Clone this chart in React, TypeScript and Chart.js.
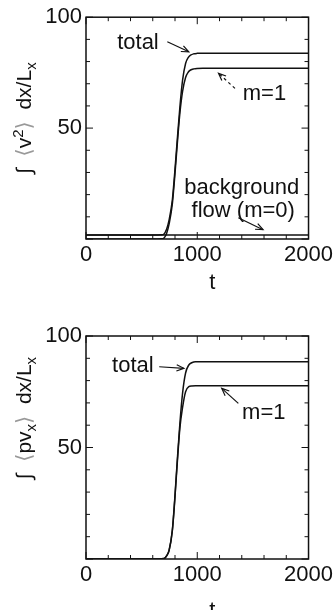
import React, { useEffect, useRef } from "react";
import { Chart, registerables } from "chart.js";
Chart.register(...registerables);

// ---------- data ----------
const tTop = [0, 600, 680, 702, 725, 747, 776, 797, 820, 844, 868, 895, 920, 940, 970, 998, 1050, 1200, 2000];
const totalTop = [1.8, 1.8, 1.9, 2.3, 4.5, 8.6, 17.6, 29.6, 44.6, 59.6, 71.6, 79.1, 81.9, 82.9, 83.5, 83.7, 83.8, 83.8, 83.8];
const m1Top = [0, 0, 0.1, 0.5, 2.6, 6.8, 15.8, 27.8, 42.6, 56.8, 66.5, 72.8, 75.3, 76.2, 76.7, 76.9, 77, 77, 77];
const tBg = [0, 2000];
const bgTop = [1.8, 1.8];

const tBot = [0, 650, 702, 725, 747, 776, 797, 820, 844, 868, 895, 924, 950, 984, 1050, 2000];
const totalBot = [0, 0, 0.2, 1.5, 4, 13, 26.5, 44, 61, 74.4, 83.4, 87, 88, 88.5, 88.5, 88.5];
const m1Bot = [0, 0, 0.2, 1.4, 3.8, 12.6, 25.8, 42.8, 58.8, 68, 75, 77.3, 77.6, 77.7, 77.7, 77.7];

const xTicks = [0, 1000, 2000];
const yTicks = [50, 100];

const FONT = "'Liberation Sans', Arial, 'DejaVu Sans', sans-serif";
const INK = "#111";

type Seg = { t: string; k?: "sub" | "sup"; c?: string };
type Txt = { s: string; x: number; y: number };
type Arr = { x1: number; y1: number; x2: number; y2: number; dash?: number[] };
type Deco = {
  texts: Txt[];
  arrows: Arr[];
  ylabel: Seg[];
  ylabelVal: number;
  tX: number;
  tDy: number;
};

const pts = (xs: number[], ys: number[]) => xs.map((x, i) => ({ x, y: ys[i] }));

function drawRich(ctx: CanvasRenderingContext2D, segs: Seg[], cx: number, cy: number) {
  const big = `21px ${FONT}`;
  const small = `15px ${FONT}`;
  ctx.save();
  ctx.translate(cx, cy);
  ctx.rotate(-Math.PI / 2);
  let w = 0;
  const widths = segs.map((s) => {
    ctx.font = s.k ? small : big;
    const m = ctx.measureText(s.t).width;
    w += m;
    return m;
  });
  let x = -w / 2;
  ctx.textBaseline = "alphabetic";
  ctx.textAlign = "left";
  segs.forEach((s, i) => {
    ctx.font = s.k ? small : big;
    ctx.fillStyle = s.c || INK;
    const dy = s.k === "sup" ? -8 : s.k === "sub" ? 5 : 0;
    ctx.fillText(s.t, x, 7 + dy);
    x += widths[i];
  });
  ctx.restore();
}

function makeDecoPlugin(deco: Deco) {
  return {
    id: "deco",
    afterDatasetsDraw(chart: any) {
      const { ctx, chartArea: a, scales } = chart;
      const xs = scales.x;
      const ys = scales.y;
      ctx.save();
      // frame
      ctx.strokeStyle = INK;
      ctx.lineWidth = 1.5;
      ctx.strokeRect(a.left, a.top, a.right - a.left, a.bottom - a.top);
      // inward ticks
      ctx.lineWidth = 1;
      for (let v = 0; v <= 2000; v += 200) {
        const px = xs.getPixelForValue(v);
        const L = v % 1000 === 0 ? 7 : 4;
        ctx.beginPath();
        ctx.moveTo(px, a.bottom);
        ctx.lineTo(px, a.bottom - L);
        ctx.moveTo(px, a.top);
        ctx.lineTo(px, a.top + L);
        ctx.stroke();
      }
      for (let v = 0; v <= 100; v += 10) {
        const py = ys.getPixelForValue(v);
        const L = v % 50 === 0 ? 7 : 4;
        ctx.beginPath();
        ctx.moveTo(a.left, py);
        ctx.lineTo(a.left + L, py);
        ctx.moveTo(a.right, py);
        ctx.lineTo(a.right - L, py);
        ctx.stroke();
      }
      // annotation texts
      ctx.fillStyle = INK;
      ctx.font = `22px ${FONT}`;
      ctx.textAlign = "center";
      ctx.textBaseline = "middle";
      deco.texts.forEach((t) => {
        ctx.fillText(t.s, xs.getPixelForValue(t.x), ys.getPixelForValue(t.y));
      });
      // arrows
      deco.arrows.forEach((r) => {
        const x1 = xs.getPixelForValue(r.x1);
        const y1 = ys.getPixelForValue(r.y1);
        const x2 = xs.getPixelForValue(r.x2);
        const y2 = ys.getPixelForValue(r.y2);
        ctx.lineWidth = 1.2;
        ctx.setLineDash(r.dash || []);
        ctx.beginPath();
        ctx.moveTo(x1, y1);
        ctx.lineTo(x2, y2);
        ctx.stroke();
        ctx.setLineDash([]);
        const ang = Math.atan2(y2 - y1, x2 - x1);
        const h = 8;
        ctx.beginPath();
        ctx.moveTo(x2 - h * Math.cos(ang - 0.4), y2 - h * Math.sin(ang - 0.4));
        ctx.lineTo(x2, y2);
        ctx.lineTo(x2 - h * Math.cos(ang + 0.4), y2 - h * Math.sin(ang + 0.4));
        ctx.stroke();
      });
      // x title
      ctx.font = `22px ${FONT}`;
      ctx.textAlign = "center";
      ctx.textBaseline = "alphabetic";
      ctx.fillText("t", xs.getPixelForValue(deco.tX), a.bottom + deco.tDy);
      // y title
      drawRich(ctx, deco.ylabel, 24, ys.getPixelForValue(deco.ylabelVal));
      ctx.restore();
    },
  };
}

function makeConfig(
  datasets: { xs: number[]; ys: number[] }[],
  padTop: number,
  xHeight: number,
  deco: Deco
): any {
  return {
    type: "line",
    data: {
      datasets: datasets.map((d) => ({
        data: pts(d.xs, d.ys),
        borderColor: INK,
        borderWidth: 1.5,
        pointRadius: 0,
        fill: false,
        cubicInterpolationMode: "monotone",
      })),
    },
    options: {
      animation: false,
      responsive: false,
      maintainAspectRatio: false,
      layout: { padding: { top: padTop, right: 25, left: 0, bottom: 0 } },
      plugins: { legend: { display: false }, tooltip: { enabled: false } },
      scales: {
        x: {
          type: "linear",
          min: 0,
          max: 2000,
          afterBuildTicks: (s: any) => {
            s.ticks = xTicks.map((v) => ({ value: v }));
          },
          ticks: {
            color: INK,
            font: { family: FONT, size: 22 },
            padding: 3,
            maxRotation: 0,
            autoSkip: false,
            callback: (v: any) => String(v),
          },
          grid: { display: false, drawTicks: false },
          border: { display: false },
          afterFit: (s: any) => {
            s.height = xHeight;
          },
        },
        y: {
          min: 0,
          max: 100,
          afterBuildTicks: (s: any) => {
            s.ticks = yTicks.map((v) => ({ value: v }));
          },
          ticks: {
            color: INK,
            font: { family: FONT, size: 22 },
            padding: 4,
            callback: (v: any) => String(v),
          },
          grid: { display: false, drawTicks: false },
          border: { display: false },
          afterFit: (s: any) => {
            s.width = 86;
          },
        },
      },
    },
    plugins: [makeDecoPlugin(deco)],
  };
}

const decoTop: Deco = {
  texts: [
    { s: "total", x: 467, y: 88.2 },
    { s: "m=1", x: 1604, y: 65.3 },
    { s: "background", x: 1400, y: 23 },
    { s: "flow (m=0)", x: 1413, y: 12.7 },
  ],
  arrows: [
    { x1: 731, y1: 88.9, x2: 924, y2: 84.4 },
    { x1: 1339, y1: 67.9, x2: 1191, y2: 74.7, dash: [3, 3] },
    { x1: 1369, y1: 9.6, x2: 1591, y2: 4.2 },
  ],
  ylabel: [
    { t: "\u222B  " },
    { t: "\u27E8", c: "#999" },
    { t: "v" },
    { t: "2", k: "sup" },
    { t: "\u27E9", c: "#999" },
    { t: "  dx/L" },
    { t: "x", k: "sub" },
  ],
  ylabelVal: 54.5,
  tX: 1135,
  tDy: 50,
};

const decoBot: Deco = {
  texts: [
    { s: "total", x: 421, y: 86.4 },
    { s: "m=1", x: 1598, y: 65.7 },
  ],
  arrows: [
    { x1: 658, y1: 86.2, x2: 880, y2: 85.5 },
    { x1: 1369, y1: 69.8, x2: 1220, y2: 76.5 },
  ],
  ylabel: [
    { t: "\u222B  " },
    { t: "\u27E8", c: "#999" },
    { t: "pv" },
    { t: "x", k: "sub" },
    { t: "\u27E9", c: "#999" },
    { t: "  dx/L" },
    { t: "x", k: "sub" },
  ],
  ylabelVal: 63.2,
  tX: 1135,
  tDy: 58,
};

function Panel(props: { width: number; height: number; config: any; top: number }) {
  const ref = useRef<HTMLCanvasElement>(null);
  useEffect(() => {
    if (!ref.current) return;
    const c = new Chart(ref.current, props.config);
    return () => c.destroy();
  }, []);
  return (
    <canvas
      ref={ref}
      width={props.width}
      height={props.height}
      style={{ position: "absolute", left: 0, top: props.top, width: props.width, height: props.height }}
    />
  );
}

export default function App() {
  const cfgTop = makeConfig(
    [
      { xs: tTop, ys: totalTop },
      { xs: tTop, ys: m1Top },
      { xs: tBg, ys: bgTop },
    ],
    17,
    61,
    decoTop
  );
  const cfgBot = makeConfig(
    [
      { xs: tBot, ys: totalBot },
      { xs: tBot, ys: m1Bot },
    ],
    36,
    51,
    decoBot
  );
  return (
    <div style={{ position: "absolute", left: 0, top: 0, width: 336, height: 610, background: "#fff", overflow: "hidden" }}>
      <Panel width={336} height={300} top={0} config={cfgTop} />
      <Panel width={336} height={310} top={300} config={cfgBot} />
    </div>
  );
}
